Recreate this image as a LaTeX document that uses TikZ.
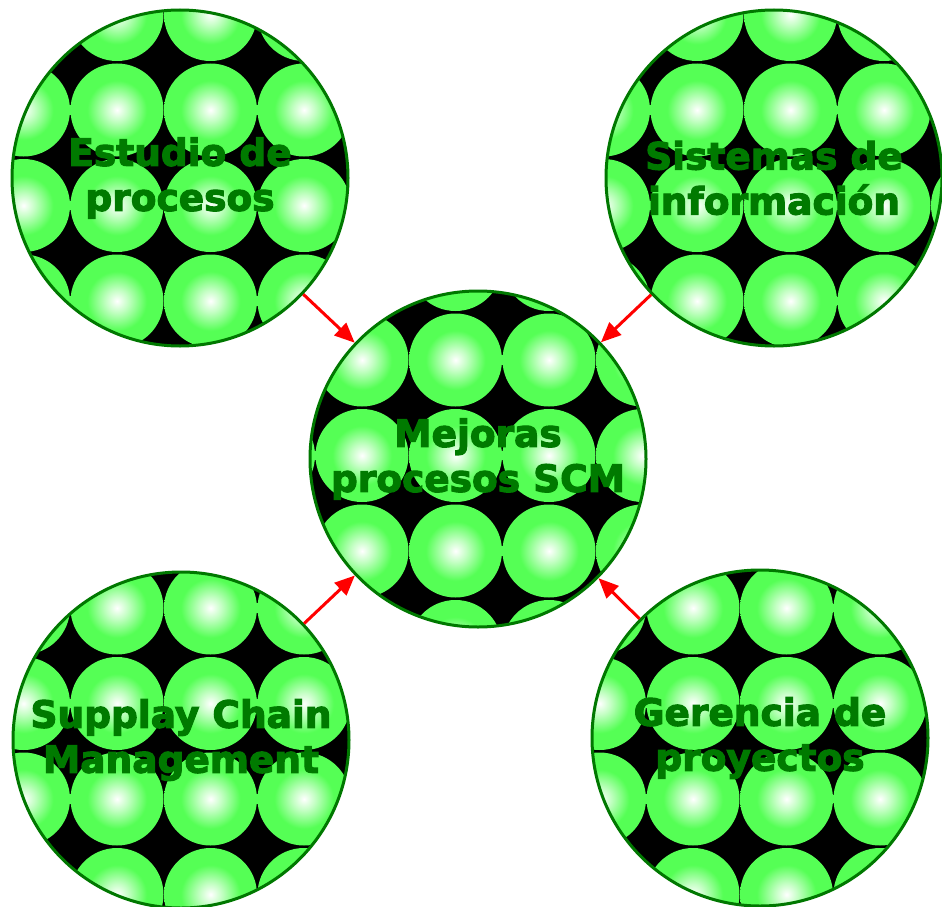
\documentclass[tikz,border=0pt]{standalone}
\usepackage{fontspec}
\usetikzlibrary{arrows.meta}

\newfontfamily\labelfont{DejaVu Sans Bold}[FakeBold=3]

\definecolor{ballgreen}{RGB}{85,255,85}
\definecolor{rimgreen}{RGB}{0,120,0}
\definecolor{textgreen}{RGB}{0,122,0}

\pgfdeclareradialshading{ballglow}{\pgfpoint{0bp}{0bp}}{%
  color(0bp)=(white); color(6bp)=(ballgreen!35!white); color(16bp)=(ballgreen); color(50bp)=(ballgreen)}

\tikzset{
  balls/.style 2 args={path picture={
      \fill[black] (path picture bounding box.south west) rectangle (path picture bounding box.north east);
      \foreach \i in {-3,...,3}
        \foreach \j in {-3,...,3}
          \shade[shading=ballglow] ([shift={(#1+93.5*\i,#2+95.5*\j)}]path picture bounding box.center) circle[radius=46.5pt];
  }},
  topic/.style={circle, draw=rimgreen, line width=3pt, minimum size=336pt, inner sep=0pt,
    align=center, text=textgreen, font=\labelfont\fontsize{37.5}{45}\selectfont},
  link/.style={red, line width=3pt, -{Triangle[length=20pt,width=17pt]}}
}

\begin{document}
\begin{tikzpicture}[x=1pt,y=-1pt]
  \useasboundingbox (0,0) rectangle (942,907);

  \node[topic, balls={-63}{-68}] (study) at (180,178) {Estudio de\\procesos};
  \node[topic, balls={-77}{-68}] (info) at (774,178) {Sistemas de\\información};
  \node[topic, balls={-116}{-99}] (hub) at (478,459) {Mejoras\\procesos SCM};
  \node[topic, balls={-64}{-132}] (scm) at (181,740) {Supplay Chain\\Management};
  \node[topic, balls={-67}{-130}] (pm) at (760,738) {Gerencia de\\proyectos};

  % everything feeds into the middle
  \draw[link] (study) -- (hub);
  \draw[link] (info) -- (hub);
  \draw[link] (scm) -- (hub);
  \draw[link] (pm) -- (hub);
\end{tikzpicture}
\end{document}
